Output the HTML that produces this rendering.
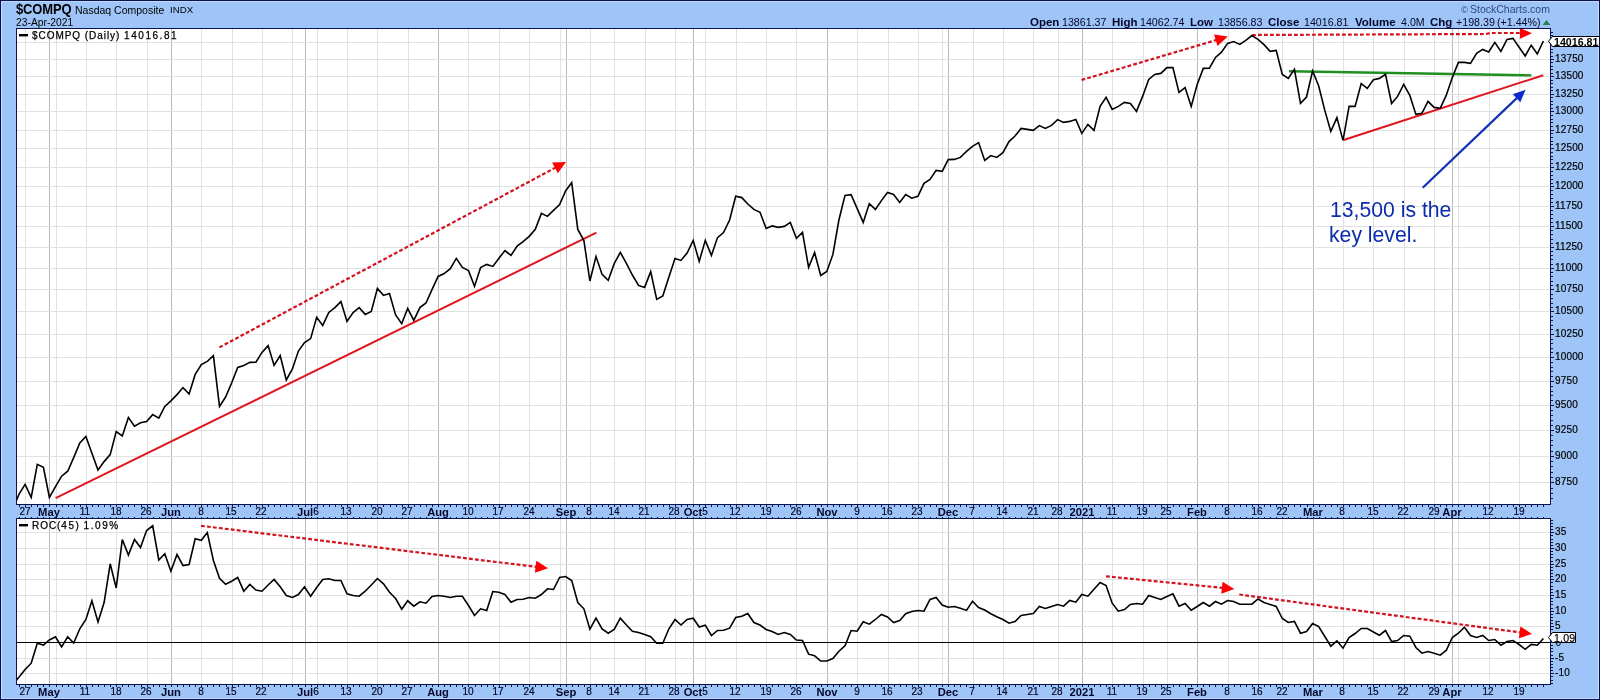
<!DOCTYPE html>
<html><head><meta charset="utf-8"><title>$COMPQ Nasdaq Composite</title>
<style>
html,body{margin:0;padding:0}
body{width:1600px;height:700px;overflow:hidden;background:#9fc5f8;font-family:"Liberation Sans",sans-serif}
#w{position:absolute;left:0;top:0;width:1598px;height:698px;border:1px solid #0a1550;background:#9fc5f8;overflow:hidden;box-shadow:inset 0 0 0 1px #c3d9fa}
#c{position:absolute;left:-1px;top:-1px;width:1600px;height:700px}
.t{position:absolute;will-change:transform;white-space:nowrap;line-height:0;height:0;color:#000;font-size:10px}
.t::before{content:"";display:inline-block;height:0}
.mb{font-weight:bold;font-size:11.2px;color:#05082a}
.dl{font-size:10px;color:#05082a;-webkit-text-stroke:0.2px #05082a}
.yl{font-size:10px;letter-spacing:0.15px;-webkit-text-stroke:0.2px #000} .yb{font-size:10.67px;font-weight:bold}
.sy{font-size:13px;font-weight:bold;transform:scaleY(1.08);transform-origin:0 4.5px;letter-spacing:-0.15px} .nm{font-size:10.5px} .ix{font-size:9.7px}
.dt{font-size:10.3px}
.oh{font-size:10.67px;color:#05082a} .ob{font-size:11.5px;font-weight:bold;color:#05082a}
.sc{font-size:10.5px;color:#2f4878}
.lg{font-size:10px;letter-spacing:0.95px;-webkit-text-stroke:0.25px #000} .lg .dg{letter-spacing:1.55px}
.an{font-size:21.2px;color:#0c2cac}
</style></head>
<body><div id="w"><div id="c">
<svg width="1600" height="700" viewBox="0 0 1600 700" style="position:absolute;left:0;top:0"><rect x="16.5" y="28.5" width="1534" height="476" fill="#fff" stroke="none"/><rect x="16.5" y="518.5" width="1534" height="166" fill="#fff" stroke="none"/><g shape-rendering="crispEdges"><path d="M25.5 29V504M25.5 519V684" stroke="#e1e1e1" stroke-width="1"/><path d="M56.5 29V504M56.5 519V684" stroke="#e1e1e1" stroke-width="1"/><path d="M86.5 29V504M86.5 519V684" stroke="#e1e1e1" stroke-width="1"/><path d="M116.5 29V504M116.5 519V684" stroke="#e1e1e1" stroke-width="1"/><path d="M147.5 29V504M147.5 519V684" stroke="#e1e1e1" stroke-width="1"/><path d="M201.5 29V504M201.5 519V684" stroke="#e1e1e1" stroke-width="1"/><path d="M232.5 29V504M232.5 519V684" stroke="#e1e1e1" stroke-width="1"/><path d="M262.5 29V504M262.5 519V684" stroke="#e1e1e1" stroke-width="1"/><path d="M292.5 29V504M292.5 519V684" stroke="#e1e1e1" stroke-width="1"/><path d="M317.5 29V504M317.5 519V684" stroke="#e1e1e1" stroke-width="1"/><path d="M347.5 29V504M347.5 519V684" stroke="#e1e1e1" stroke-width="1"/><path d="M377.5 29V504M377.5 519V684" stroke="#e1e1e1" stroke-width="1"/><path d="M408.5 29V504M408.5 519V684" stroke="#e1e1e1" stroke-width="1"/><path d="M468.5 29V504M468.5 519V684" stroke="#e1e1e1" stroke-width="1"/><path d="M499.5 29V504M499.5 519V684" stroke="#e1e1e1" stroke-width="1"/><path d="M529.5 29V504M529.5 519V684" stroke="#e1e1e1" stroke-width="1"/><path d="M560.5 29V504M560.5 519V684" stroke="#e1e1e1" stroke-width="1"/><path d="M590.5 29V504M590.5 519V684" stroke="#e1e1e1" stroke-width="1"/><path d="M614.5 29V504M614.5 519V684" stroke="#e1e1e1" stroke-width="1"/><path d="M645.5 29V504M645.5 519V684" stroke="#e1e1e1" stroke-width="1"/><path d="M675.5 29V504M675.5 519V684" stroke="#e1e1e1" stroke-width="1"/><path d="M705.5 29V504M705.5 519V684" stroke="#e1e1e1" stroke-width="1"/><path d="M736.5 29V504M736.5 519V684" stroke="#e1e1e1" stroke-width="1"/><path d="M766.5 29V504M766.5 519V684" stroke="#e1e1e1" stroke-width="1"/><path d="M796.5 29V504M796.5 519V684" stroke="#e1e1e1" stroke-width="1"/><path d="M857.5 29V504M857.5 519V684" stroke="#e1e1e1" stroke-width="1"/><path d="M888.5 29V504M888.5 519V684" stroke="#e1e1e1" stroke-width="1"/><path d="M918.5 29V504M918.5 519V684" stroke="#e1e1e1" stroke-width="1"/><path d="M942.5 29V504M942.5 519V684" stroke="#e1e1e1" stroke-width="1"/><path d="M973.5 29V504M973.5 519V684" stroke="#e1e1e1" stroke-width="1"/><path d="M1003.5 29V504M1003.5 519V684" stroke="#e1e1e1" stroke-width="1"/><path d="M1033.5 29V504M1033.5 519V684" stroke="#e1e1e1" stroke-width="1"/><path d="M1058.5 29V504M1058.5 519V684" stroke="#e1e1e1" stroke-width="1"/><path d="M1112.5 29V504M1112.5 519V684" stroke="#e1e1e1" stroke-width="1"/><path d="M1143.5 29V504M1143.5 519V684" stroke="#e1e1e1" stroke-width="1"/><path d="M1167.5 29V504M1167.5 519V684" stroke="#e1e1e1" stroke-width="1"/><path d="M1228.5 29V504M1228.5 519V684" stroke="#e1e1e1" stroke-width="1"/><path d="M1258.5 29V504M1258.5 519V684" stroke="#e1e1e1" stroke-width="1"/><path d="M1282.5 29V504M1282.5 519V684" stroke="#e1e1e1" stroke-width="1"/><path d="M1343.5 29V504M1343.5 519V684" stroke="#e1e1e1" stroke-width="1"/><path d="M1373.5 29V504M1373.5 519V684" stroke="#e1e1e1" stroke-width="1"/><path d="M1404.5 29V504M1404.5 519V684" stroke="#e1e1e1" stroke-width="1"/><path d="M1434.5 29V504M1434.5 519V684" stroke="#e1e1e1" stroke-width="1"/><path d="M1458.5 29V504M1458.5 519V684" stroke="#e1e1e1" stroke-width="1"/><path d="M1489.5 29V504M1489.5 519V684" stroke="#e1e1e1" stroke-width="1"/><path d="M1519.5 29V504M1519.5 519V684" stroke="#e1e1e1" stroke-width="1"/><path d="M49.5 29V504M49.5 519V684" stroke="#bbbbbb" stroke-width="1"/><path d="M171.5 29V504M171.5 519V684" stroke="#bbbbbb" stroke-width="1"/><path d="M305.5 29V504M305.5 519V684" stroke="#bbbbbb" stroke-width="1"/><path d="M438.5 29V504M438.5 519V684" stroke="#bbbbbb" stroke-width="1"/><path d="M566.5 29V504M566.5 519V684" stroke="#bbbbbb" stroke-width="1"/><path d="M693.5 29V504M693.5 519V684" stroke="#bbbbbb" stroke-width="1"/><path d="M827.5 29V504M827.5 519V684" stroke="#bbbbbb" stroke-width="1"/><path d="M948.5 29V504M948.5 519V684" stroke="#bbbbbb" stroke-width="1"/><path d="M1082.5 29V504M1082.5 519V684" stroke="#bbbbbb" stroke-width="1"/><path d="M1197.5 29V504M1197.5 519V684" stroke="#bbbbbb" stroke-width="1"/><path d="M1313.5 29V504M1313.5 519V684" stroke="#bbbbbb" stroke-width="1"/><path d="M1452.5 29V504M1452.5 519V684" stroke="#bbbbbb" stroke-width="1"/><path d="M17 482.5H1550" stroke="#e1e1e1" stroke-width="1"/><path d="M17 456.5H1550" stroke="#e1e1e1" stroke-width="1"/><path d="M17 430.5H1550" stroke="#e1e1e1" stroke-width="1"/><path d="M17 405.5H1550" stroke="#e1e1e1" stroke-width="1"/><path d="M17 381.5H1550" stroke="#e1e1e1" stroke-width="1"/><path d="M17 357.5H1550" stroke="#e1e1e1" stroke-width="1"/><path d="M17 334.5H1550" stroke="#e1e1e1" stroke-width="1"/><path d="M17 311.5H1550" stroke="#e1e1e1" stroke-width="1"/><path d="M17 289.5H1550" stroke="#e1e1e1" stroke-width="1"/><path d="M17 268.5H1550" stroke="#e1e1e1" stroke-width="1"/><path d="M17 247.5H1550" stroke="#e1e1e1" stroke-width="1"/><path d="M17 226.5H1550" stroke="#e1e1e1" stroke-width="1"/><path d="M17 206.5H1550" stroke="#e1e1e1" stroke-width="1"/><path d="M17 186.5H1550" stroke="#e1e1e1" stroke-width="1"/><path d="M17 167.5H1550" stroke="#e1e1e1" stroke-width="1"/><path d="M17 148.5H1550" stroke="#e1e1e1" stroke-width="1"/><path d="M17 130.5H1550" stroke="#e1e1e1" stroke-width="1"/><path d="M17 111.5H1550" stroke="#e1e1e1" stroke-width="1"/><path d="M17 94.5H1550" stroke="#e1e1e1" stroke-width="1"/><path d="M17 76.5H1550" stroke="#e1e1e1" stroke-width="1"/><path d="M17 59.5H1550" stroke="#e1e1e1" stroke-width="1"/><path d="M17 42.5H1550" stroke="#e1e1e1" stroke-width="1"/><path d="M17 673.5H1550" stroke="#e1e1e1" stroke-width="1"/><path d="M17 658.5H1550" stroke="#e1e1e1" stroke-width="1"/><path d="M17 626.5H1550" stroke="#e1e1e1" stroke-width="1"/><path d="M17 611.5H1550" stroke="#e1e1e1" stroke-width="1"/><path d="M17 595.5H1550" stroke="#e1e1e1" stroke-width="1"/><path d="M17 579.5H1550" stroke="#e1e1e1" stroke-width="1"/><path d="M17 564.5H1550" stroke="#e1e1e1" stroke-width="1"/><path d="M17 548.5H1550" stroke="#e1e1e1" stroke-width="1"/><path d="M17 532.5H1550" stroke="#e1e1e1" stroke-width="1"/></g><path d="M17 642.5H1550" stroke="#000" stroke-width="1" shape-rendering="crispEdges"/><clipPath id="c1"><rect x="17" y="29" width="1533" height="475"/></clipPath><clipPath id="c2"><rect x="17" y="519" width="1533" height="165"/></clipPath><g clip-path="url(#c1)" fill="none"><line x1="55.6" y1="498.2" x2="596.4" y2="232.6" stroke="#e0161e" stroke-width="2"/><line x1="1343.6" y1="140" x2="1543.3" y2="75.2" stroke="#e0161e" stroke-width="2"/><line x1="1289" y1="71.2" x2="1531.4" y2="75.4" stroke="#1f8f1f" stroke-width="2.4"/><line x1="219.4" y1="347.4" x2="555.9" y2="167.4" stroke="#d4121e" stroke-width="2.2" stroke-dasharray="3.8 2.2"/><polygon points="566.0,162.0 557.8,173.2 552.1,162.6" fill="#ff0000" stroke="none"/><line x1="1081.5" y1="80" x2="1216.8" y2="39.9" stroke="#d4121e" stroke-width="2.2" stroke-dasharray="3.8 2.2"/><polygon points="1227.8,36.6 1217.5,45.9 1214.1,34.4" fill="#ff0000" stroke="none"/><path d="M1252 35 L1486 34 L1490 33 L1521 33" stroke="#d4121e" stroke-width="2.2" stroke-dasharray="3.8 2.2"/><polygon points="1532,33.3 1520,28 1520,38.7" fill="#ff0000"/><line x1="1422.7" y1="187.7" x2="1517.3" y2="97.6" stroke="#1232b4" stroke-width="2.2"/><polygon points="1525.6,89.7 1520.3,102.3 1512.8,94.3" fill="#0a2ad0" stroke="none"/><polyline points="13.0,509.0 19.1,494.0 25.1,484.4 31.2,497.4 37.3,464.4 43.4,467.4 49.4,497.4 55.5,486.6 61.6,476.2 67.7,471.2 73.7,457.6 79.8,443.0 85.9,436.4 91.9,453.2 98.0,470.0 104.1,461.6 110.2,454.6 116.2,431.6 122.3,436.0 128.4,417.6 134.5,426.2 140.5,422.8 146.6,421.6 152.7,414.6 158.8,418.2 164.8,406.4 170.9,400.8 177.0,394.6 183.0,387.6 189.1,394.0 195.2,374.4 201.3,364.6 207.3,361.4 213.4,355.6 219.5,406.4 225.6,397.0 231.6,383.0 237.7,367.4 243.8,365.4 249.8,362.4 255.9,362.2 262.0,352.4 268.1,345.6 274.1,365.4 280.2,355.6 286.3,380.0 292.4,369.0 298.4,351.0 304.5,342.6 310.6,338.6 316.7,317.3 322.7,325.4 328.8,312.4 334.9,307.6 340.9,301.6 347.0,321.4 353.1,312.6 359.2,307.6 365.2,314.4 371.3,311.4 377.4,288.4 383.5,295.4 389.5,293.6 395.6,315.0 401.7,323.6 407.7,308.4 413.8,320.4 419.9,307.6 426.0,303.0 432.0,289.6 438.1,276.4 444.2,273.6 450.3,268.6 456.3,258.4 462.4,267.4 468.5,270.5 474.5,286.4 480.6,267.6 486.7,264.4 492.8,266.4 498.8,258.4 504.9,250.6 511.0,255.4 517.1,246.0 523.1,241.6 529.2,236.4 535.3,229.4 541.4,213.4 547.4,216.4 553.5,210.4 559.6,204.6 565.6,191.0 571.7,182.6 577.8,229.4 583.9,240.6 589.9,281.0 596.0,256.6 602.1,274.4 608.2,280.4 614.2,263.7 620.3,252.4 626.4,263.4 632.4,275.0 638.5,285.4 644.6,287.4 650.7,271.6 656.7,299.4 662.8,296.0 668.9,277.0 675.0,258.4 681.0,260.4 687.1,253.0 693.2,240.4 699.2,261.4 705.3,240.4 711.4,255.4 717.5,237.6 723.5,232.6 729.6,220.0 735.7,196.2 741.8,197.6 747.8,204.0 753.9,209.4 760.0,212.3 766.1,228.4 772.1,225.9 778.2,227.4 784.3,226.4 790.3,222.4 796.4,238.4 802.5,232.4 808.6,267.4 814.6,252.6 820.7,275.4 826.8,271.4 832.9,254.4 838.9,220.0 845.0,195.4 851.1,194.6 857.1,208.4 863.2,222.4 869.3,203.6 875.4,209.4 881.4,200.6 887.5,192.4 893.6,194.4 899.7,202.4 905.7,194.6 911.8,198.2 917.9,196.3 924.0,183.4 930.0,179.4 936.1,170.4 942.2,171.4 948.2,159.6 954.3,159.4 960.4,157.4 966.5,151.4 972.5,146.4 978.6,142.6 984.7,160.4 990.8,155.6 996.8,157.4 1002.9,152.6 1009.0,141.6 1015.0,136.0 1021.1,128.4 1027.2,129.4 1033.3,130.4 1039.3,125.6 1045.4,128.4 1051.5,125.4 1057.6,119.6 1063.6,122.4 1069.7,121.4 1075.8,119.4 1081.8,133.4 1087.9,124.4 1094.0,130.4 1100.1,106.4 1106.1,97.4 1112.2,109.4 1118.3,106.4 1124.4,102.4 1130.4,103.4 1136.5,111.4 1142.6,96.4 1148.7,79.4 1154.7,74.4 1160.8,73.4 1166.9,67.6 1172.9,67.6 1179.0,92.4 1185.1,87.6 1191.2,106.4 1197.2,84.4 1203.3,68.4 1209.4,68.2 1215.5,57.4 1221.5,52.2 1227.6,43.4 1233.7,41.6 1239.7,44.4 1245.8,40.4 1251.9,35.6 1258.0,39.4 1264.0,44.6 1270.1,51.4 1276.2,50.4 1282.3,74.4 1288.3,78.4 1294.4,69.4 1300.5,103.4 1306.5,97.0 1312.6,71.0 1318.7,86.0 1324.8,110.4 1330.8,131.4 1336.9,117.6 1343.0,140.4 1349.1,106.4 1355.1,106.4 1361.2,83.6 1367.3,88.4 1373.4,79.8 1379.4,78.4 1385.5,74.4 1391.6,103.4 1397.6,96.4 1403.7,84.4 1409.8,95.4 1415.9,114.4 1421.9,113.4 1428.0,101.4 1434.1,107.4 1440.2,108.4 1446.2,95.4 1452.3,77.6 1458.4,62.4 1464.4,62.4 1470.5,63.4 1476.6,53.4 1482.7,49.4 1488.7,52.0 1494.8,42.4 1500.9,51.4 1507.0,39.4 1513.0,38.4 1519.1,47.2 1525.2,55.9 1531.2,45.2 1537.3,54.0 1543.4,41.0" stroke="#000" stroke-width="1.6" stroke-linejoin="miter" stroke-linecap="butt"/></g><g clip-path="url(#c2)" fill="none"><line x1="201" y1="525.8" x2="536.6" y2="566.9" stroke="#d4121e" stroke-width="2.2" stroke-dasharray="3.8 2.2"/><polygon points="548.0,568.3 534.9,572.7 536.3,560.8" fill="#ff0000" stroke="none"/><line x1="1106" y1="576.3" x2="1222.9" y2="587.9" stroke="#d4121e" stroke-width="2.2" stroke-dasharray="3.8 2.2"/><polygon points="1234.3,589.0 1221.3,593.7 1222.5,581.8" fill="#ff0000" stroke="none"/><line x1="1239.3" y1="594.5" x2="1520.6" y2="632.5" stroke="#d4121e" stroke-width="2.2" stroke-dasharray="3.8 2.2"/><polygon points="1532.0,634.0 1518.8,638.3 1520.4,626.4" fill="#ff0000" stroke="none"/><polyline points="13.0,684.0 19.1,677.0 25.1,669.5 31.2,663.2 37.3,643.2 43.4,645.0 49.4,640.0 55.5,636.8 61.6,647.0 67.7,636.8 73.7,643.0 79.8,628.8 85.9,619.5 91.9,600.8 98.0,622.0 104.1,602.5 110.2,563.8 116.2,588.0 122.3,539.5 128.4,555.0 134.5,539.5 140.5,547.5 146.6,530.5 152.7,525.8 158.8,560.0 164.8,553.8 170.9,571.2 177.0,554.5 183.0,565.5 189.1,564.5 195.2,538.8 201.3,540.3 207.3,532.5 213.4,560.5 219.5,578.2 225.6,584.2 231.6,581.2 237.7,577.5 243.8,591.2 249.8,584.5 255.9,590.0 262.0,591.2 268.1,585.0 274.1,579.5 280.2,586.8 286.3,595.5 292.4,597.5 298.4,594.5 304.5,586.8 310.6,596.2 316.7,587.5 322.7,579.5 328.8,578.8 334.9,580.5 340.9,580.5 347.0,593.8 353.1,595.5 359.2,596.2 365.2,591.2 371.3,585.0 377.4,578.5 383.5,583.8 389.5,592.3 395.6,598.5 401.7,609.2 407.7,600.8 413.8,606.2 419.9,601.8 426.0,603.2 432.0,596.5 438.1,595.5 444.2,596.2 450.3,597.5 456.3,596.2 462.4,596.2 468.5,605.5 474.5,615.5 480.6,608.8 486.7,610.5 492.8,591.5 498.8,592.2 504.9,594.5 511.0,602.2 517.1,599.5 523.1,599.2 529.2,597.5 535.3,598.2 541.4,594.5 547.4,588.8 553.5,589.5 559.6,577.5 565.6,576.5 571.7,580.5 577.8,602.5 583.9,608.8 589.9,629.2 596.0,618.2 602.1,629.0 608.2,633.2 614.2,629.5 620.3,618.2 626.4,625.0 632.4,631.2 638.5,632.5 644.6,634.5 650.7,636.8 656.7,643.2 662.8,643.2 668.9,628.8 675.0,619.5 681.0,625.0 687.1,619.5 693.2,618.2 699.2,627.0 705.3,625.2 711.4,635.5 717.5,630.5 723.5,630.2 729.6,628.2 735.7,617.5 741.8,616.2 747.8,613.5 753.9,622.5 760.0,625.0 766.1,629.5 772.1,631.5 778.2,634.5 784.3,632.5 790.3,634.5 796.4,640.0 802.5,640.5 808.6,654.2 814.6,655.8 820.7,661.0 826.8,661.0 832.9,658.5 838.9,651.2 845.0,645.8 851.1,630.5 857.1,631.2 863.2,621.8 869.3,624.2 875.4,619.5 881.4,614.5 887.5,617.0 893.6,622.5 899.7,620.5 905.7,613.8 911.8,611.5 917.9,610.5 924.0,611.2 930.0,599.5 936.1,597.5 942.2,605.0 948.2,607.2 954.3,606.5 960.4,608.2 966.5,610.4 972.5,601.2 978.6,607.5 984.7,610.0 990.8,613.8 996.8,616.8 1002.9,619.5 1009.0,623.2 1015.0,621.5 1021.1,615.5 1027.2,614.5 1033.3,613.5 1039.3,606.5 1045.4,608.5 1051.5,606.5 1057.6,604.5 1063.6,606.2 1069.7,600.5 1075.8,602.2 1081.8,594.5 1087.9,596.2 1094.0,589.2 1100.1,582.5 1106.1,585.5 1112.2,603.2 1118.3,611.2 1124.4,609.5 1130.4,604.5 1136.5,603.5 1142.6,604.2 1148.7,595.5 1154.7,597.5 1160.8,599.5 1166.9,596.5 1172.9,593.8 1179.0,606.2 1185.1,603.5 1191.2,610.2 1197.2,606.5 1203.3,602.5 1209.4,606.2 1215.5,601.5 1221.5,604.2 1227.6,600.5 1233.7,601.5 1239.7,604.2 1245.8,604.2 1251.9,604.2 1258.0,599.0 1264.0,602.5 1270.1,604.5 1276.2,606.5 1282.3,618.5 1288.3,622.5 1294.4,621.5 1300.5,633.2 1306.5,631.5 1312.6,623.5 1318.7,626.5 1324.8,636.5 1330.8,646.2 1336.9,640.8 1343.0,648.2 1349.1,637.5 1355.1,633.5 1361.2,628.5 1367.3,628.5 1373.4,632.0 1379.4,635.2 1385.5,630.5 1391.6,641.5 1397.6,640.5 1403.7,635.5 1409.8,636.2 1415.9,647.5 1421.9,653.2 1428.0,651.5 1434.1,653.2 1440.2,655.2 1446.2,650.5 1452.3,637.5 1458.4,633.2 1464.4,627.2 1470.5,635.5 1476.6,637.5 1482.7,635.5 1488.7,640.5 1494.8,639.5 1500.9,645.2 1507.0,641.5 1513.0,640.5 1519.1,644.5 1525.2,649.3 1531.2,644.4 1537.3,645.2 1543.4,638.5" stroke="#000" stroke-width="1.6" stroke-linejoin="miter"/></g><g shape-rendering="crispEdges" fill="none" stroke="#0a1550" stroke-width="1"><rect x="16.5" y="28.5" width="1534" height="476"/><rect x="16.5" y="518.5" width="1534" height="166"/><path d="M19.5 505v1.5M19.5 516.5v1.5M19.5 685v1.5M25.5 505v1.5M25.5 516.5v1.5M25.5 685v1.5M31.5 505v1.5M31.5 516.5v1.5M31.5 685v1.5M37.5 505v1.5M37.5 516.5v1.5M37.5 685v1.5M43.5 505v1.5M43.5 516.5v1.5M43.5 685v1.5M49.5 505v1.5M49.5 516.5v1.5M49.5 685v1.5M56.5 505v1.5M56.5 516.5v1.5M56.5 685v1.5M62.5 505v1.5M62.5 516.5v1.5M62.5 685v1.5M68.5 505v1.5M68.5 516.5v1.5M68.5 685v1.5M74.5 505v1.5M74.5 516.5v1.5M74.5 685v1.5M80.5 505v1.5M80.5 516.5v1.5M80.5 685v1.5M86.5 505v1.5M86.5 516.5v1.5M86.5 685v1.5M92.5 505v1.5M92.5 516.5v1.5M92.5 685v1.5M98.5 505v1.5M98.5 516.5v1.5M98.5 685v1.5M104.5 505v1.5M104.5 516.5v1.5M104.5 685v1.5M110.5 505v1.5M110.5 516.5v1.5M110.5 685v1.5M116.5 505v1.5M116.5 516.5v1.5M116.5 685v1.5M122.5 505v1.5M122.5 516.5v1.5M122.5 685v1.5M128.5 505v1.5M128.5 516.5v1.5M128.5 685v1.5M134.5 505v1.5M134.5 516.5v1.5M134.5 685v1.5M141.5 505v1.5M141.5 516.5v1.5M141.5 685v1.5M147.5 505v1.5M147.5 516.5v1.5M147.5 685v1.5M153.5 505v1.5M153.5 516.5v1.5M153.5 685v1.5M159.5 505v1.5M159.5 516.5v1.5M159.5 685v1.5M165.5 505v1.5M165.5 516.5v1.5M165.5 685v1.5M171.5 505v1.5M171.5 516.5v1.5M171.5 685v1.5M177.5 505v1.5M177.5 516.5v1.5M177.5 685v1.5M183.5 505v1.5M183.5 516.5v1.5M183.5 685v1.5M189.5 505v1.5M189.5 516.5v1.5M189.5 685v1.5M195.5 505v1.5M195.5 516.5v1.5M195.5 685v1.5M201.5 505v1.5M201.5 516.5v1.5M201.5 685v1.5M207.5 505v1.5M207.5 516.5v1.5M207.5 685v1.5M213.5 505v1.5M213.5 516.5v1.5M213.5 685v1.5M219.5 505v1.5M219.5 516.5v1.5M219.5 685v1.5M226.5 505v1.5M226.5 516.5v1.5M226.5 685v1.5M232.5 505v1.5M232.5 516.5v1.5M232.5 685v1.5M238.5 505v1.5M238.5 516.5v1.5M238.5 685v1.5M244.5 505v1.5M244.5 516.5v1.5M244.5 685v1.5M250.5 505v1.5M250.5 516.5v1.5M250.5 685v1.5M256.5 505v1.5M256.5 516.5v1.5M256.5 685v1.5M262.5 505v1.5M262.5 516.5v1.5M262.5 685v1.5M268.5 505v1.5M268.5 516.5v1.5M268.5 685v1.5M274.5 505v1.5M274.5 516.5v1.5M274.5 685v1.5M280.5 505v1.5M280.5 516.5v1.5M280.5 685v1.5M286.5 505v1.5M286.5 516.5v1.5M286.5 685v1.5M292.5 505v1.5M292.5 516.5v1.5M292.5 685v1.5M298.5 505v1.5M298.5 516.5v1.5M298.5 685v1.5M305.5 505v1.5M305.5 516.5v1.5M305.5 685v1.5M311.5 505v1.5M311.5 516.5v1.5M311.5 685v1.5M317.5 505v1.5M317.5 516.5v1.5M317.5 685v1.5M323.5 505v1.5M323.5 516.5v1.5M323.5 685v1.5M329.5 505v1.5M329.5 516.5v1.5M329.5 685v1.5M335.5 505v1.5M335.5 516.5v1.5M335.5 685v1.5M341.5 505v1.5M341.5 516.5v1.5M341.5 685v1.5M347.5 505v1.5M347.5 516.5v1.5M347.5 685v1.5M353.5 505v1.5M353.5 516.5v1.5M353.5 685v1.5M359.5 505v1.5M359.5 516.5v1.5M359.5 685v1.5M365.5 505v1.5M365.5 516.5v1.5M365.5 685v1.5M371.5 505v1.5M371.5 516.5v1.5M371.5 685v1.5M377.5 505v1.5M377.5 516.5v1.5M377.5 685v1.5M383.5 505v1.5M383.5 516.5v1.5M383.5 685v1.5M390.5 505v1.5M390.5 516.5v1.5M390.5 685v1.5M396.5 505v1.5M396.5 516.5v1.5M396.5 685v1.5M402.5 505v1.5M402.5 516.5v1.5M402.5 685v1.5M408.5 505v1.5M408.5 516.5v1.5M408.5 685v1.5M414.5 505v1.5M414.5 516.5v1.5M414.5 685v1.5M420.5 505v1.5M420.5 516.5v1.5M420.5 685v1.5M426.5 505v1.5M426.5 516.5v1.5M426.5 685v1.5M432.5 505v1.5M432.5 516.5v1.5M432.5 685v1.5M438.5 505v1.5M438.5 516.5v1.5M438.5 685v1.5M444.5 505v1.5M444.5 516.5v1.5M444.5 685v1.5M450.5 505v1.5M450.5 516.5v1.5M450.5 685v1.5M456.5 505v1.5M456.5 516.5v1.5M456.5 685v1.5M462.5 505v1.5M462.5 516.5v1.5M462.5 685v1.5M468.5 505v1.5M468.5 516.5v1.5M468.5 685v1.5M475.5 505v1.5M475.5 516.5v1.5M475.5 685v1.5M481.5 505v1.5M481.5 516.5v1.5M481.5 685v1.5M487.5 505v1.5M487.5 516.5v1.5M487.5 685v1.5M493.5 505v1.5M493.5 516.5v1.5M493.5 685v1.5M499.5 505v1.5M499.5 516.5v1.5M499.5 685v1.5M505.5 505v1.5M505.5 516.5v1.5M505.5 685v1.5M511.5 505v1.5M511.5 516.5v1.5M511.5 685v1.5M517.5 505v1.5M517.5 516.5v1.5M517.5 685v1.5M523.5 505v1.5M523.5 516.5v1.5M523.5 685v1.5M529.5 505v1.5M529.5 516.5v1.5M529.5 685v1.5M535.5 505v1.5M535.5 516.5v1.5M535.5 685v1.5M541.5 505v1.5M541.5 516.5v1.5M541.5 685v1.5M547.5 505v1.5M547.5 516.5v1.5M547.5 685v1.5M553.5 505v1.5M553.5 516.5v1.5M553.5 685v1.5M560.5 505v1.5M560.5 516.5v1.5M560.5 685v1.5M566.5 505v1.5M566.5 516.5v1.5M566.5 685v1.5M572.5 505v1.5M572.5 516.5v1.5M572.5 685v1.5M578.5 505v1.5M578.5 516.5v1.5M578.5 685v1.5M584.5 505v1.5M584.5 516.5v1.5M584.5 685v1.5M590.5 505v1.5M590.5 516.5v1.5M590.5 685v1.5M596.5 505v1.5M596.5 516.5v1.5M596.5 685v1.5M602.5 505v1.5M602.5 516.5v1.5M602.5 685v1.5M608.5 505v1.5M608.5 516.5v1.5M608.5 685v1.5M614.5 505v1.5M614.5 516.5v1.5M614.5 685v1.5M620.5 505v1.5M620.5 516.5v1.5M620.5 685v1.5M626.5 505v1.5M626.5 516.5v1.5M626.5 685v1.5M632.5 505v1.5M632.5 516.5v1.5M632.5 685v1.5M639.5 505v1.5M639.5 516.5v1.5M639.5 685v1.5M645.5 505v1.5M645.5 516.5v1.5M645.5 685v1.5M651.5 505v1.5M651.5 516.5v1.5M651.5 685v1.5M657.5 505v1.5M657.5 516.5v1.5M657.5 685v1.5M663.5 505v1.5M663.5 516.5v1.5M663.5 685v1.5M669.5 505v1.5M669.5 516.5v1.5M669.5 685v1.5M675.5 505v1.5M675.5 516.5v1.5M675.5 685v1.5M681.5 505v1.5M681.5 516.5v1.5M681.5 685v1.5M687.5 505v1.5M687.5 516.5v1.5M687.5 685v1.5M693.5 505v1.5M693.5 516.5v1.5M693.5 685v1.5M699.5 505v1.5M699.5 516.5v1.5M699.5 685v1.5M705.5 505v1.5M705.5 516.5v1.5M705.5 685v1.5M711.5 505v1.5M711.5 516.5v1.5M711.5 685v1.5M717.5 505v1.5M717.5 516.5v1.5M717.5 685v1.5M724.5 505v1.5M724.5 516.5v1.5M724.5 685v1.5M730.5 505v1.5M730.5 516.5v1.5M730.5 685v1.5M736.5 505v1.5M736.5 516.5v1.5M736.5 685v1.5M742.5 505v1.5M742.5 516.5v1.5M742.5 685v1.5M748.5 505v1.5M748.5 516.5v1.5M748.5 685v1.5M754.5 505v1.5M754.5 516.5v1.5M754.5 685v1.5M760.5 505v1.5M760.5 516.5v1.5M760.5 685v1.5M766.5 505v1.5M766.5 516.5v1.5M766.5 685v1.5M772.5 505v1.5M772.5 516.5v1.5M772.5 685v1.5M778.5 505v1.5M778.5 516.5v1.5M778.5 685v1.5M784.5 505v1.5M784.5 516.5v1.5M784.5 685v1.5M790.5 505v1.5M790.5 516.5v1.5M790.5 685v1.5M796.5 505v1.5M796.5 516.5v1.5M796.5 685v1.5M802.5 505v1.5M802.5 516.5v1.5M802.5 685v1.5M809.5 505v1.5M809.5 516.5v1.5M809.5 685v1.5M815.5 505v1.5M815.5 516.5v1.5M815.5 685v1.5M821.5 505v1.5M821.5 516.5v1.5M821.5 685v1.5M827.5 505v1.5M827.5 516.5v1.5M827.5 685v1.5M833.5 505v1.5M833.5 516.5v1.5M833.5 685v1.5M839.5 505v1.5M839.5 516.5v1.5M839.5 685v1.5M845.5 505v1.5M845.5 516.5v1.5M845.5 685v1.5M851.5 505v1.5M851.5 516.5v1.5M851.5 685v1.5M857.5 505v1.5M857.5 516.5v1.5M857.5 685v1.5M863.5 505v1.5M863.5 516.5v1.5M863.5 685v1.5M869.5 505v1.5M869.5 516.5v1.5M869.5 685v1.5M875.5 505v1.5M875.5 516.5v1.5M875.5 685v1.5M881.5 505v1.5M881.5 516.5v1.5M881.5 685v1.5M888.5 505v1.5M888.5 516.5v1.5M888.5 685v1.5M894.5 505v1.5M894.5 516.5v1.5M894.5 685v1.5M900.5 505v1.5M900.5 516.5v1.5M900.5 685v1.5M906.5 505v1.5M906.5 516.5v1.5M906.5 685v1.5M912.5 505v1.5M912.5 516.5v1.5M912.5 685v1.5M918.5 505v1.5M918.5 516.5v1.5M918.5 685v1.5M924.5 505v1.5M924.5 516.5v1.5M924.5 685v1.5M930.5 505v1.5M930.5 516.5v1.5M930.5 685v1.5M936.5 505v1.5M936.5 516.5v1.5M936.5 685v1.5M942.5 505v1.5M942.5 516.5v1.5M942.5 685v1.5M948.5 505v1.5M948.5 516.5v1.5M948.5 685v1.5M954.5 505v1.5M954.5 516.5v1.5M954.5 685v1.5M960.5 505v1.5M960.5 516.5v1.5M960.5 685v1.5M966.5 505v1.5M966.5 516.5v1.5M966.5 685v1.5M973.5 505v1.5M973.5 516.5v1.5M973.5 685v1.5M979.5 505v1.5M979.5 516.5v1.5M979.5 685v1.5M985.5 505v1.5M985.5 516.5v1.5M985.5 685v1.5M991.5 505v1.5M991.5 516.5v1.5M991.5 685v1.5M997.5 505v1.5M997.5 516.5v1.5M997.5 685v1.5M1003.5 505v1.5M1003.5 516.5v1.5M1003.5 685v1.5M1009.5 505v1.5M1009.5 516.5v1.5M1009.5 685v1.5M1015.5 505v1.5M1015.5 516.5v1.5M1015.5 685v1.5M1021.5 505v1.5M1021.5 516.5v1.5M1021.5 685v1.5M1027.5 505v1.5M1027.5 516.5v1.5M1027.5 685v1.5M1033.5 505v1.5M1033.5 516.5v1.5M1033.5 685v1.5M1039.5 505v1.5M1039.5 516.5v1.5M1039.5 685v1.5M1045.5 505v1.5M1045.5 516.5v1.5M1045.5 685v1.5M1051.5 505v1.5M1051.5 516.5v1.5M1051.5 685v1.5M1058.5 505v1.5M1058.5 516.5v1.5M1058.5 685v1.5M1064.5 505v1.5M1064.5 516.5v1.5M1064.5 685v1.5M1070.5 505v1.5M1070.5 516.5v1.5M1070.5 685v1.5M1076.5 505v1.5M1076.5 516.5v1.5M1076.5 685v1.5M1082.5 505v1.5M1082.5 516.5v1.5M1082.5 685v1.5M1088.5 505v1.5M1088.5 516.5v1.5M1088.5 685v1.5M1094.5 505v1.5M1094.5 516.5v1.5M1094.5 685v1.5M1100.5 505v1.5M1100.5 516.5v1.5M1100.5 685v1.5M1106.5 505v1.5M1106.5 516.5v1.5M1106.5 685v1.5M1112.5 505v1.5M1112.5 516.5v1.5M1112.5 685v1.5M1118.5 505v1.5M1118.5 516.5v1.5M1118.5 685v1.5M1124.5 505v1.5M1124.5 516.5v1.5M1124.5 685v1.5M1130.5 505v1.5M1130.5 516.5v1.5M1130.5 685v1.5M1137.5 505v1.5M1137.5 516.5v1.5M1137.5 685v1.5M1143.5 505v1.5M1143.5 516.5v1.5M1143.5 685v1.5M1149.5 505v1.5M1149.5 516.5v1.5M1149.5 685v1.5M1155.5 505v1.5M1155.5 516.5v1.5M1155.5 685v1.5M1161.5 505v1.5M1161.5 516.5v1.5M1161.5 685v1.5M1167.5 505v1.5M1167.5 516.5v1.5M1167.5 685v1.5M1173.5 505v1.5M1173.5 516.5v1.5M1173.5 685v1.5M1179.5 505v1.5M1179.5 516.5v1.5M1179.5 685v1.5M1185.5 505v1.5M1185.5 516.5v1.5M1185.5 685v1.5M1191.5 505v1.5M1191.5 516.5v1.5M1191.5 685v1.5M1197.5 505v1.5M1197.5 516.5v1.5M1197.5 685v1.5M1203.5 505v1.5M1203.5 516.5v1.5M1203.5 685v1.5M1209.5 505v1.5M1209.5 516.5v1.5M1209.5 685v1.5M1215.5 505v1.5M1215.5 516.5v1.5M1215.5 685v1.5M1222.5 505v1.5M1222.5 516.5v1.5M1222.5 685v1.5M1228.5 505v1.5M1228.5 516.5v1.5M1228.5 685v1.5M1234.5 505v1.5M1234.5 516.5v1.5M1234.5 685v1.5M1240.5 505v1.5M1240.5 516.5v1.5M1240.5 685v1.5M1246.5 505v1.5M1246.5 516.5v1.5M1246.5 685v1.5M1252.5 505v1.5M1252.5 516.5v1.5M1252.5 685v1.5M1258.5 505v1.5M1258.5 516.5v1.5M1258.5 685v1.5M1264.5 505v1.5M1264.5 516.5v1.5M1264.5 685v1.5M1270.5 505v1.5M1270.5 516.5v1.5M1270.5 685v1.5M1276.5 505v1.5M1276.5 516.5v1.5M1276.5 685v1.5M1282.5 505v1.5M1282.5 516.5v1.5M1282.5 685v1.5M1288.5 505v1.5M1288.5 516.5v1.5M1288.5 685v1.5M1294.5 505v1.5M1294.5 516.5v1.5M1294.5 685v1.5M1300.5 505v1.5M1300.5 516.5v1.5M1300.5 685v1.5M1307.5 505v1.5M1307.5 516.5v1.5M1307.5 685v1.5M1313.5 505v1.5M1313.5 516.5v1.5M1313.5 685v1.5M1319.5 505v1.5M1319.5 516.5v1.5M1319.5 685v1.5M1325.5 505v1.5M1325.5 516.5v1.5M1325.5 685v1.5M1331.5 505v1.5M1331.5 516.5v1.5M1331.5 685v1.5M1337.5 505v1.5M1337.5 516.5v1.5M1337.5 685v1.5M1343.5 505v1.5M1343.5 516.5v1.5M1343.5 685v1.5M1349.5 505v1.5M1349.5 516.5v1.5M1349.5 685v1.5M1355.5 505v1.5M1355.5 516.5v1.5M1355.5 685v1.5M1361.5 505v1.5M1361.5 516.5v1.5M1361.5 685v1.5M1367.5 505v1.5M1367.5 516.5v1.5M1367.5 685v1.5M1373.5 505v1.5M1373.5 516.5v1.5M1373.5 685v1.5M1379.5 505v1.5M1379.5 516.5v1.5M1379.5 685v1.5M1385.5 505v1.5M1385.5 516.5v1.5M1385.5 685v1.5M1392.5 505v1.5M1392.5 516.5v1.5M1392.5 685v1.5M1398.5 505v1.5M1398.5 516.5v1.5M1398.5 685v1.5M1404.5 505v1.5M1404.5 516.5v1.5M1404.5 685v1.5M1410.5 505v1.5M1410.5 516.5v1.5M1410.5 685v1.5M1416.5 505v1.5M1416.5 516.5v1.5M1416.5 685v1.5M1422.5 505v1.5M1422.5 516.5v1.5M1422.5 685v1.5M1428.5 505v1.5M1428.5 516.5v1.5M1428.5 685v1.5M1434.5 505v1.5M1434.5 516.5v1.5M1434.5 685v1.5M1440.5 505v1.5M1440.5 516.5v1.5M1440.5 685v1.5M1446.5 505v1.5M1446.5 516.5v1.5M1446.5 685v1.5M1452.5 505v1.5M1452.5 516.5v1.5M1452.5 685v1.5M1458.5 505v1.5M1458.5 516.5v1.5M1458.5 685v1.5M1464.5 505v1.5M1464.5 516.5v1.5M1464.5 685v1.5M1471.5 505v1.5M1471.5 516.5v1.5M1471.5 685v1.5M1477.5 505v1.5M1477.5 516.5v1.5M1477.5 685v1.5M1483.5 505v1.5M1483.5 516.5v1.5M1483.5 685v1.5M1489.5 505v1.5M1489.5 516.5v1.5M1489.5 685v1.5M1495.5 505v1.5M1495.5 516.5v1.5M1495.5 685v1.5M1501.5 505v1.5M1501.5 516.5v1.5M1501.5 685v1.5M1507.5 505v1.5M1507.5 516.5v1.5M1507.5 685v1.5M1513.5 505v1.5M1513.5 516.5v1.5M1513.5 685v1.5M1519.5 505v1.5M1519.5 516.5v1.5M1519.5 685v1.5M1525.5 505v1.5M1525.5 516.5v1.5M1525.5 685v1.5M1531.5 505v1.5M1531.5 516.5v1.5M1531.5 685v1.5M1537.5 505v1.5M1537.5 516.5v1.5M1537.5 685v1.5M1543.5 505v1.5M1543.5 516.5v1.5M1543.5 685v1.5"/><path d="M1551 482.5h3M1551 456.5h3M1551 430.5h3M1551 405.5h3M1551 381.5h3M1551 357.5h3M1551 334.5h3M1551 311.5h3M1551 289.5h3M1551 268.5h3M1551 247.5h3M1551 226.5h3M1551 206.5h3M1551 186.5h3M1551 167.5h3M1551 148.5h3M1551 130.5h3M1551 111.5h3M1551 94.5h3M1551 76.5h3M1551 59.5h3M1551 42.5h3M1551 498.5h1.5M1551 493.5h1.5M1551 488.5h1.5M1551 482.5h1.5M1551 477.5h1.5M1551 472.5h1.5M1551 466.5h1.5M1551 461.5h1.5M1551 456.5h1.5M1551 451.5h1.5M1551 445.5h1.5M1551 440.5h1.5M1551 435.5h1.5M1551 430.5h1.5M1551 425.5h1.5M1551 420.5h1.5M1551 415.5h1.5M1551 410.5h1.5M1551 405.5h1.5M1551 400.5h1.5M1551 395.5h1.5M1551 391.5h1.5M1551 386.5h1.5M1551 381.5h1.5M1551 376.5h1.5M1551 371.5h1.5M1551 367.5h1.5M1551 362.5h1.5M1551 357.5h1.5M1551 352.5h1.5M1551 348.5h1.5M1551 343.5h1.5M1551 339.5h1.5M1551 334.5h1.5M1551 329.5h1.5M1551 325.5h1.5M1551 320.5h1.5M1551 316.5h1.5M1551 311.5h1.5M1551 307.5h1.5M1551 303.5h1.5M1551 298.5h1.5M1551 294.5h1.5M1551 289.5h1.5M1551 285.5h1.5M1551 281.5h1.5M1551 276.5h1.5M1551 272.5h1.5M1551 268.5h1.5M1551 264.5h1.5M1551 259.5h1.5M1551 255.5h1.5M1551 251.5h1.5M1551 247.5h1.5M1551 243.5h1.5M1551 239.5h1.5M1551 234.5h1.5M1551 230.5h1.5M1551 226.5h1.5M1551 222.5h1.5M1551 218.5h1.5M1551 214.5h1.5M1551 210.5h1.5M1551 206.5h1.5M1551 202.5h1.5M1551 198.5h1.5M1551 194.5h1.5M1551 190.5h1.5M1551 186.5h1.5M1551 183.5h1.5M1551 179.5h1.5M1551 175.5h1.5M1551 171.5h1.5M1551 167.5h1.5M1551 163.5h1.5M1551 159.5h1.5M1551 156.5h1.5M1551 152.5h1.5M1551 148.5h1.5M1551 144.5h1.5M1551 141.5h1.5M1551 137.5h1.5M1551 133.5h1.5M1551 130.5h1.5M1551 126.5h1.5M1551 122.5h1.5M1551 119.5h1.5M1551 115.5h1.5M1551 111.5h1.5M1551 108.5h1.5M1551 104.5h1.5M1551 101.5h1.5M1551 97.5h1.5M1551 94.5h1.5M1551 90.5h1.5M1551 87.5h1.5M1551 83.5h1.5M1551 80.5h1.5M1551 76.5h1.5M1551 73.5h1.5M1551 69.5h1.5M1551 66.5h1.5M1551 62.5h1.5M1551 59.5h1.5M1551 56.5h1.5M1551 52.5h1.5M1551 49.5h1.5M1551 45.5h1.5M1551 42.5h1.5M1551 39.5h1.5M1551 35.5h1.5M1551 32.5h1.5M1551 673.5h3M1551 658.5h3M1551 642.5h3M1551 626.5h3M1551 611.5h3M1551 595.5h3M1551 579.5h3M1551 564.5h3M1551 548.5h3M1551 532.5h3M1551 683.5h1.5M1551 680.5h1.5M1551 676.5h1.5M1551 673.5h1.5M1551 670.5h1.5M1551 667.5h1.5M1551 664.5h1.5M1551 661.5h1.5M1551 658.5h1.5M1551 655.5h1.5M1551 651.5h1.5M1551 648.5h1.5M1551 645.5h1.5M1551 642.5h1.5M1551 639.5h1.5M1551 636.5h1.5M1551 633.5h1.5M1551 629.5h1.5M1551 626.5h1.5M1551 623.5h1.5M1551 620.5h1.5M1551 617.5h1.5M1551 614.5h1.5M1551 611.5h1.5M1551 608.5h1.5M1551 604.5h1.5M1551 601.5h1.5M1551 598.5h1.5M1551 595.5h1.5M1551 592.5h1.5M1551 589.5h1.5M1551 586.5h1.5M1551 582.5h1.5M1551 579.5h1.5M1551 576.5h1.5M1551 573.5h1.5M1551 570.5h1.5M1551 567.5h1.5M1551 564.5h1.5M1551 561.5h1.5M1551 557.5h1.5M1551 554.5h1.5M1551 551.5h1.5M1551 548.5h1.5M1551 545.5h1.5M1551 542.5h1.5M1551 539.5h1.5M1551 535.5h1.5M1551 532.5h1.5M1551 529.5h1.5M1551 526.5h1.5M1551 523.5h1.5M1551 520.5h1.5"/></g><rect x="19" y="34" width="9" height="2.4" fill="#000"/><rect x="19" y="524" width="9" height="2.4" fill="#000"/><text x="1555.4" y="645.6" font-family="Liberation Sans, sans-serif" font-size="10" fill="#000">0</text><path d="M1548.5 41.2 L1552.5 36.5 H1599.5 V46.5 H1552.5 Z" fill="#fff" stroke="#000" stroke-width="1"/><path d="M1548.5 637.5 L1552.5 632.5 H1575.5 V642.5 H1552.5 Z" fill="#fff" stroke="#000" stroke-width="1"/><polygon points="1542.5,25 1546.5,20 1550.5,25" fill="#2e7d5b"/></svg>
<div class="t mb" style="left:49.4px;top:511.62px;transform:translateX(-50%);">May</div><div class="t mb" style="left:49.4px;top:691.62px;transform:translateX(-50%);">May</div><div class="t mb" style="left:170.9px;top:511.62px;transform:translateX(-50%);">Jun</div><div class="t mb" style="left:170.9px;top:691.62px;transform:translateX(-50%);">Jun</div><div class="t mb" style="left:304.5px;top:511.62px;transform:translateX(-50%);">Jul</div><div class="t mb" style="left:304.5px;top:691.62px;transform:translateX(-50%);">Jul</div><div class="t mb" style="left:438.1px;top:511.62px;transform:translateX(-50%);">Aug</div><div class="t mb" style="left:438.1px;top:691.62px;transform:translateX(-50%);">Aug</div><div class="t mb" style="left:565.6px;top:511.62px;transform:translateX(-50%);">Sep</div><div class="t mb" style="left:565.6px;top:691.62px;transform:translateX(-50%);">Sep</div><div class="t mb" style="left:693.2px;top:511.62px;transform:translateX(-50%);">Oct</div><div class="t mb" style="left:693.2px;top:691.62px;transform:translateX(-50%);">Oct</div><div class="t mb" style="left:826.8px;top:511.62px;transform:translateX(-50%);">Nov</div><div class="t mb" style="left:826.8px;top:691.62px;transform:translateX(-50%);">Nov</div><div class="t mb" style="left:948.2px;top:511.62px;transform:translateX(-50%);">Dec</div><div class="t mb" style="left:948.2px;top:691.62px;transform:translateX(-50%);">Dec</div><div class="t mb" style="left:1081.8px;top:511.62px;transform:translateX(-50%);">2021</div><div class="t mb" style="left:1081.8px;top:691.62px;transform:translateX(-50%);">2021</div><div class="t mb" style="left:1197.2px;top:511.62px;transform:translateX(-50%);">Feb</div><div class="t mb" style="left:1197.2px;top:691.62px;transform:translateX(-50%);">Feb</div><div class="t mb" style="left:1312.6px;top:511.62px;transform:translateX(-50%);">Mar</div><div class="t mb" style="left:1312.6px;top:691.62px;transform:translateX(-50%);">Mar</div><div class="t mb" style="left:1452.3px;top:511.62px;transform:translateX(-50%);">Apr</div><div class="t mb" style="left:1452.3px;top:691.62px;transform:translateX(-50%);">Apr</div><div class="t dl" style="left:24.5px;top:512.03px;transform:translateX(-50%);">27</div><div class="t dl" style="left:24.5px;top:692.03px;transform:translateX(-50%);">27</div><div class="t dl" style="left:85.3px;top:512.03px;transform:translateX(-50%);">11</div><div class="t dl" style="left:85.3px;top:692.03px;transform:translateX(-50%);">11</div><div class="t dl" style="left:115.6px;top:512.03px;transform:translateX(-50%);">18</div><div class="t dl" style="left:115.6px;top:692.03px;transform:translateX(-50%);">18</div><div class="t dl" style="left:146.0px;top:512.03px;transform:translateX(-50%);">26</div><div class="t dl" style="left:146.0px;top:692.03px;transform:translateX(-50%);">26</div><div class="t dl" style="left:200.7px;top:512.03px;transform:translateX(-50%);">8</div><div class="t dl" style="left:200.7px;top:692.03px;transform:translateX(-50%);">8</div><div class="t dl" style="left:231.0px;top:512.03px;transform:translateX(-50%);">15</div><div class="t dl" style="left:231.0px;top:692.03px;transform:translateX(-50%);">15</div><div class="t dl" style="left:261.4px;top:512.03px;transform:translateX(-50%);">22</div><div class="t dl" style="left:261.4px;top:692.03px;transform:translateX(-50%);">22</div><div class="t dl" style="left:316.1px;top:512.03px;transform:translateX(-50%);">6</div><div class="t dl" style="left:316.1px;top:692.03px;transform:translateX(-50%);">6</div><div class="t dl" style="left:346.4px;top:512.03px;transform:translateX(-50%);">13</div><div class="t dl" style="left:346.4px;top:692.03px;transform:translateX(-50%);">13</div><div class="t dl" style="left:376.8px;top:512.03px;transform:translateX(-50%);">20</div><div class="t dl" style="left:376.8px;top:692.03px;transform:translateX(-50%);">20</div><div class="t dl" style="left:407.1px;top:512.03px;transform:translateX(-50%);">27</div><div class="t dl" style="left:407.1px;top:692.03px;transform:translateX(-50%);">27</div><div class="t dl" style="left:467.9px;top:512.03px;transform:translateX(-50%);">10</div><div class="t dl" style="left:467.9px;top:692.03px;transform:translateX(-50%);">10</div><div class="t dl" style="left:498.2px;top:512.03px;transform:translateX(-50%);">17</div><div class="t dl" style="left:498.2px;top:692.03px;transform:translateX(-50%);">17</div><div class="t dl" style="left:528.6px;top:512.03px;transform:translateX(-50%);">24</div><div class="t dl" style="left:528.6px;top:692.03px;transform:translateX(-50%);">24</div><div class="t dl" style="left:589.3px;top:512.03px;transform:translateX(-50%);">8</div><div class="t dl" style="left:589.3px;top:692.03px;transform:translateX(-50%);">8</div><div class="t dl" style="left:613.6px;top:512.03px;transform:translateX(-50%);">14</div><div class="t dl" style="left:613.6px;top:692.03px;transform:translateX(-50%);">14</div><div class="t dl" style="left:644.0px;top:512.03px;transform:translateX(-50%);">21</div><div class="t dl" style="left:644.0px;top:692.03px;transform:translateX(-50%);">21</div><div class="t dl" style="left:674.4px;top:512.03px;transform:translateX(-50%);">28</div><div class="t dl" style="left:674.4px;top:692.03px;transform:translateX(-50%);">28</div><div class="t dl" style="left:704.7px;top:512.03px;transform:translateX(-50%);">5</div><div class="t dl" style="left:704.7px;top:692.03px;transform:translateX(-50%);">5</div><div class="t dl" style="left:735.1px;top:512.03px;transform:translateX(-50%);">12</div><div class="t dl" style="left:735.1px;top:692.03px;transform:translateX(-50%);">12</div><div class="t dl" style="left:765.5px;top:512.03px;transform:translateX(-50%);">19</div><div class="t dl" style="left:765.5px;top:692.03px;transform:translateX(-50%);">19</div><div class="t dl" style="left:795.8px;top:512.03px;transform:translateX(-50%);">26</div><div class="t dl" style="left:795.8px;top:692.03px;transform:translateX(-50%);">26</div><div class="t dl" style="left:856.5px;top:512.03px;transform:translateX(-50%);">9</div><div class="t dl" style="left:856.5px;top:692.03px;transform:translateX(-50%);">9</div><div class="t dl" style="left:886.9px;top:512.03px;transform:translateX(-50%);">16</div><div class="t dl" style="left:886.9px;top:692.03px;transform:translateX(-50%);">16</div><div class="t dl" style="left:917.3px;top:512.03px;transform:translateX(-50%);">23</div><div class="t dl" style="left:917.3px;top:692.03px;transform:translateX(-50%);">23</div><div class="t dl" style="left:971.9px;top:512.03px;transform:translateX(-50%);">7</div><div class="t dl" style="left:971.9px;top:692.03px;transform:translateX(-50%);">7</div><div class="t dl" style="left:1002.3px;top:512.03px;transform:translateX(-50%);">14</div><div class="t dl" style="left:1002.3px;top:692.03px;transform:translateX(-50%);">14</div><div class="t dl" style="left:1032.7px;top:512.03px;transform:translateX(-50%);">21</div><div class="t dl" style="left:1032.7px;top:692.03px;transform:translateX(-50%);">21</div><div class="t dl" style="left:1057.0px;top:512.03px;transform:translateX(-50%);">28</div><div class="t dl" style="left:1057.0px;top:692.03px;transform:translateX(-50%);">28</div><div class="t dl" style="left:1111.6px;top:512.03px;transform:translateX(-50%);">11</div><div class="t dl" style="left:1111.6px;top:692.03px;transform:translateX(-50%);">11</div><div class="t dl" style="left:1142.0px;top:512.03px;transform:translateX(-50%);">19</div><div class="t dl" style="left:1142.0px;top:692.03px;transform:translateX(-50%);">19</div><div class="t dl" style="left:1166.3px;top:512.03px;transform:translateX(-50%);">25</div><div class="t dl" style="left:1166.3px;top:692.03px;transform:translateX(-50%);">25</div><div class="t dl" style="left:1227.0px;top:512.03px;transform:translateX(-50%);">8</div><div class="t dl" style="left:1227.0px;top:692.03px;transform:translateX(-50%);">8</div><div class="t dl" style="left:1257.4px;top:512.03px;transform:translateX(-50%);">16</div><div class="t dl" style="left:1257.4px;top:692.03px;transform:translateX(-50%);">16</div><div class="t dl" style="left:1281.7px;top:512.03px;transform:translateX(-50%);">22</div><div class="t dl" style="left:1281.7px;top:692.03px;transform:translateX(-50%);">22</div><div class="t dl" style="left:1342.4px;top:512.03px;transform:translateX(-50%);">8</div><div class="t dl" style="left:1342.4px;top:692.03px;transform:translateX(-50%);">8</div><div class="t dl" style="left:1372.8px;top:512.03px;transform:translateX(-50%);">15</div><div class="t dl" style="left:1372.8px;top:692.03px;transform:translateX(-50%);">15</div><div class="t dl" style="left:1403.1px;top:512.03px;transform:translateX(-50%);">22</div><div class="t dl" style="left:1403.1px;top:692.03px;transform:translateX(-50%);">22</div><div class="t dl" style="left:1433.5px;top:512.03px;transform:translateX(-50%);">29</div><div class="t dl" style="left:1433.5px;top:692.03px;transform:translateX(-50%);">29</div><div class="t dl" style="left:1488.1px;top:512.03px;transform:translateX(-50%);">12</div><div class="t dl" style="left:1488.1px;top:692.03px;transform:translateX(-50%);">12</div><div class="t dl" style="left:1518.5px;top:512.03px;transform:translateX(-50%);">19</div><div class="t dl" style="left:1518.5px;top:692.03px;transform:translateX(-50%);">19</div><div class="t yl" style="left:1554.6px;top:481.64px;">8750</div><div class="t yl" style="left:1554.6px;top:455.64px;">9000</div><div class="t yl" style="left:1554.6px;top:429.64px;">9250</div><div class="t yl" style="left:1554.6px;top:404.64px;">9500</div><div class="t yl" style="left:1554.6px;top:380.64px;">9750</div><div class="t yl" style="left:1554.6px;top:356.64px;">10000</div><div class="t yl" style="left:1554.6px;top:333.64px;">10250</div><div class="t yl" style="left:1554.6px;top:310.64px;">10500</div><div class="t yl" style="left:1554.6px;top:288.64px;">10750</div><div class="t yl" style="left:1554.6px;top:267.64px;">11000</div><div class="t yl" style="left:1554.6px;top:246.63px;">11250</div><div class="t yl" style="left:1554.6px;top:225.63px;">11500</div><div class="t yl" style="left:1554.6px;top:205.63px;">11750</div><div class="t yl" style="left:1554.6px;top:185.63px;">12000</div><div class="t yl" style="left:1554.6px;top:166.63px;">12250</div><div class="t yl" style="left:1554.6px;top:147.63px;">12500</div><div class="t yl" style="left:1554.6px;top:129.63px;">12750</div><div class="t yl" style="left:1554.6px;top:110.63px;">13000</div><div class="t yl" style="left:1554.6px;top:93.63px;">13250</div><div class="t yl" style="left:1554.6px;top:75.63px;">13500</div><div class="t yl" style="left:1554.6px;top:58.64px;">13750</div><div class="t yl" style="left:1554.6px;top:672.63px;">-10</div><div class="t yl" style="left:1554.6px;top:657.63px;">-5</div><div class="t yl" style="left:1554.6px;top:625.63px;">5</div><div class="t yl" style="left:1554.6px;top:610.63px;">10</div><div class="t yl" style="left:1554.6px;top:594.63px;">15</div><div class="t yl" style="left:1554.6px;top:578.63px;">20</div><div class="t yl" style="left:1554.6px;top:563.63px;">25</div><div class="t yl" style="left:1554.6px;top:547.63px;">30</div><div class="t yl" style="left:1554.6px;top:531.63px;">35</div><div class="t yb" style="left:1553.6px;top:41.5px;">14016.81</div><div class="t yl" style="left:1553.9px;top:637.93px;font-size:10.6px;">1.09</div><div class="t sy" style="left:16.4px;top:9.5px;">$COMPQ</div><div class="t nm" style="left:74.8px;top:9.66px;">Nasdaq Composite</div><div class="t ix" style="left:169.8px;top:9.94px;">INDX</div><div class="t dt" style="left:15.6px;top:22.93px;">23-Apr-2021</div><div class="t ob" style="left:1029.5px;top:21.52px;">Open</div><div class="t oh" style="left:1061.8px;top:21.8px;">13861.37</div><div class="t ob" style="left:1112px;top:21.52px;">High</div><div class="t oh" style="left:1140px;top:21.8px;">14062.74</div><div class="t ob" style="left:1189.8px;top:21.52px;">Low</div><div class="t oh" style="left:1217.9px;top:21.8px;">13856.83</div><div class="t ob" style="left:1268.2px;top:21.52px;">Close</div><div class="t oh" style="left:1303.9px;top:21.8px;">14016.81</div><div class="t ob" style="left:1355.2px;top:21.52px;">Volume</div><div class="t oh" style="left:1400.7px;top:21.8px;">4.0M</div><div class="t ob" style="left:1430px;top:21.52px;">Chg</div><div class="t oh" style="left:1455.5px;top:21.8px;">+198.39</div><div class="t oh" style="left:1497.1px;top:21.8px;">(+1.44%)</div><div class="t sc" style="left:1460.5px;top:9.16px;"><span style="font-size:9.5px;position:relative;top:-0.3px;margin-right:2px">&#169;</span>StockCharts.com</div><div class="t lg" style="left:31.5px;top:35.73px;">$COMPQ (Daily) <span class="dg">14016.81</span></div><div class="t lg" style="left:31.5px;top:525.93px;">ROC(<span class="dg">45</span>) <span class="dg">1.09%</span></div><div class="t an" style="left:1329.8px;top:209.95px;">13,500 is the</div><div class="t an" style="left:1329.3px;top:234.85px;">key level.</div>
</div></div></body></html>
